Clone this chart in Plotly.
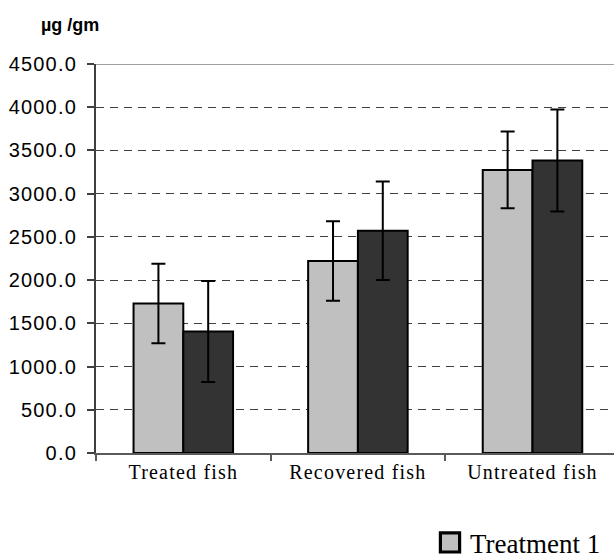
import plotly.graph_objects as go

categories = ["Treated fish", "Recovered fish", "Untreated fish"]
series_names = ["Treatment 1", "Treatment 2"]
treatment1 = [1730, 2220, 3275]
treatment1_err = [460, 460, 445]
treatment2 = [1405, 2570, 3385]
treatment2_err = [585, 570, 590]
y_ticks = [0, 500, 1000, 1500, 2000, 2500, 3000, 3500, 4000, 4500]
y_title = "µg /gm"

colors = ["#C0C0C0", "#333333"]

fig = go.Figure()
for name, vals, errs, col in [
    (series_names[0], treatment1, treatment1_err, colors[0]),
    (series_names[1], treatment2, treatment2_err, colors[1]),
]:
    fig.add_trace(go.Bar(
        x=categories, y=vals, name=name,
        marker=dict(color=col, line=dict(color="#000000", width=2)),
        error_y=dict(type="data", array=errs, visible=True,
                     color="#000000", thickness=2, width=7),
    ))

W, H = 614, 554
L, T, B = 96, 64, 101
plot_w = W - L
plot_h = H - T - B
cat_w = 174.6

fig.update_layout(
    width=W, height=H,
    margin=dict(l=L, r=0, t=T, b=B, autoexpand=False),
    paper_bgcolor="white", plot_bgcolor="white",
    barmode="group", bargap=0.43, bargroupgap=0,
    showlegend=True,
    legend=dict(orientation="v", x=(430 - L) / plot_w, xanchor="left",
                y=-0.168, yanchor="top", tracegroupgap=0,
                font=dict(family="Liberation Serif", size=27, color="#000000"),
                bgcolor="rgba(0,0,0,0)"),
    xaxis=dict(type="category", range=[-0.5, -0.5 + plot_w / cat_w],
               showline=True, linecolor="#5A5A5A", linewidth=2,
               ticks="outside", tickson="boundaries", ticklen=6,
               tickcolor="#5A5A5A", tickwidth=1.5,
               tickfont=dict(family="Liberation Serif", size=20, color="#000000"),
               showgrid=False, zeroline=False),
    yaxis=dict(range=[0, 4500], tickvals=y_ticks, tickformat=".1f",
               showline=True, linecolor="#404040", linewidth=2,
               ticks="outside", ticklen=7, tickcolor="#404040", tickwidth=1.5,
               ticklabelstandoff=6,
               tickfont=dict(family="Liberation Sans", size=20, color="#000000"),
               showgrid=True, gridcolor="#404040", gridwidth=1,
               griddash="8px,6px", zeroline=False),
    shapes=[dict(type="line", xref="paper", yref="y", x0=0, x1=1,
                 y0=4500, y1=4500, line=dict(color="#A0A0A0", width=2))],
    annotations=[dict(text="<b>" + y_title + "</b>", xref="paper", yref="paper",
                      x=(70 - L) / plot_w, y=(T + plot_h - 25) / plot_h,
                      xanchor="center", yanchor="middle", showarrow=False,
                      font=dict(family="Liberation Sans", size=18, color="#000000"))],
)

post = """
document.body.style.margin='0';
document.querySelectorAll('.xtick text').forEach(function(t){t.style.letterSpacing='1.2px';});
document.querySelectorAll('.ytick text').forEach(function(t){t.style.letterSpacing='1.2px';});
document.querySelectorAll('.legendpoints path').forEach(function(p){
  var tr = p.getAttribute('transform') || '';
  p.setAttribute('transform', tr + ' scale(1.6)');
});
"""
fig.write_html("out.html", post_script=post, config={"displayModeBar": False})
